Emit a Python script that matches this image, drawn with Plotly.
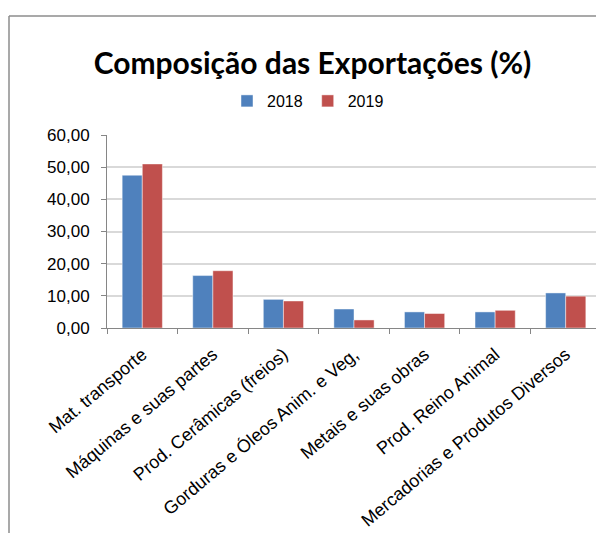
import plotly.graph_objects as go

categories = [
    "Mat. transporte",
    "Máquinas e suas partes",
    "Prod. Cerâmicas (freios)",
    "Gorduras e Óleos Anim. e Veg,",
    "Metais e suas obras",
    "Prod. Reino Animal",
    "Mercadorias e Produtos Diversos",
]
values_2018 = [47.5, 16.3, 8.9, 5.9, 5.0, 5.0, 10.9]
values_2019 = [51.0, 17.8, 8.4, 2.5, 4.5, 5.5, 9.9]
y_ticks = [0, 10, 20, 30, 40, 50, 60]

BLUE = "#4F81BD"
RED = "#C0504D"
AXIS = "#868686"
GRID = "#d9d9d9"

# page has an 8px body margin -> figure origin at (8, 8) on the page
OFF = 8
W, H = 596, 525
L, R, T, B = 99, 3, 127, 205
PW, PH = W - L - R, H - T - B


def px_x(x_page):
    return (x_page - OFF - L) / PW


def px_y(y_page):
    return 1 - (y_page - OFF - T) / PH


fig = go.Figure()
fig.add_trace(go.Bar(name="2018", x=categories, y=values_2018,
                     marker=dict(color=BLUE, line=dict(color="rgba(255,255,255,0.45)", width=1))))
fig.add_trace(go.Bar(name="2019", x=categories, y=values_2019,
                     marker=dict(color=RED, line=dict(color="rgba(255,255,255,0.45)", width=1))))

fig.update_layout(
    width=W, height=H,
    margin=dict(l=L, r=R, t=T, b=B, pad=0),
    paper_bgcolor="white", plot_bgcolor="white",
    separators=",.",
    barmode="group",
    bargap=0.43, bargroupgap=0,
    font=dict(family="Liberation Sans, Arial, sans-serif", size=16, color="#000000"),
    title=dict(
        text="<b>Composição das Exportações (%)</b>",
        font=dict(family="Lato, sans-serif", size=30, color="#000000"),
        x=px_x(312.5), xref="paper", xanchor="center",
        y=1 - (63.5 - OFF) / H, yref="container", yanchor="middle",
    ),
    legend=dict(
        orientation="h",
        x=px_x(312.5 - 4.5), xanchor="center",
        y=px_y(101), yanchor="middle",
        font=dict(family="Liberation Sans, Arial, sans-serif", size=16),
        itemwidth=30,
        bgcolor="rgba(0,0,0,0)",
    ),
    showlegend=True,
)

fig.update_yaxes(
    range=[0, 60],
    tickvals=y_ticks,
    tickformat=".2f",
    showgrid=True, gridcolor=GRID, gridwidth=1.5,
    showline=True, linecolor=AXIS, linewidth=1,
    ticks="outside", ticklen=5, tickcolor=AXIS,
    ticklabelstandoff=8,
    zeroline=False,
    tickfont=dict(size=17),
    fixedrange=True,
)
fig.update_xaxes(
    showline=True, linecolor=AXIS, linewidth=1,
    ticks="outside", ticklen=5, tickcolor=AXIS,
    tickson="boundaries",
    tickangle=-40,
    ticklabelstandoff=8,
    tickfont=dict(size=18),
    showgrid=False,
    fixedrange=True,
)

# outer chart frame (top and left edges visible)
fig.add_shape(type="line", xref="paper", yref="paper",
              x0=px_x(9), y0=px_y(16), x1=px_x(620), y1=px_y(16),
              line=dict(color="#8c8c8c", width=1.5))
fig.add_shape(type="line", xref="paper", yref="paper",
              x0=px_x(9), y0=px_y(16), x1=px_x(9), y1=px_y(545),
              line=dict(color="#8c8c8c", width=1.5))

fig.write_html("out.html")
